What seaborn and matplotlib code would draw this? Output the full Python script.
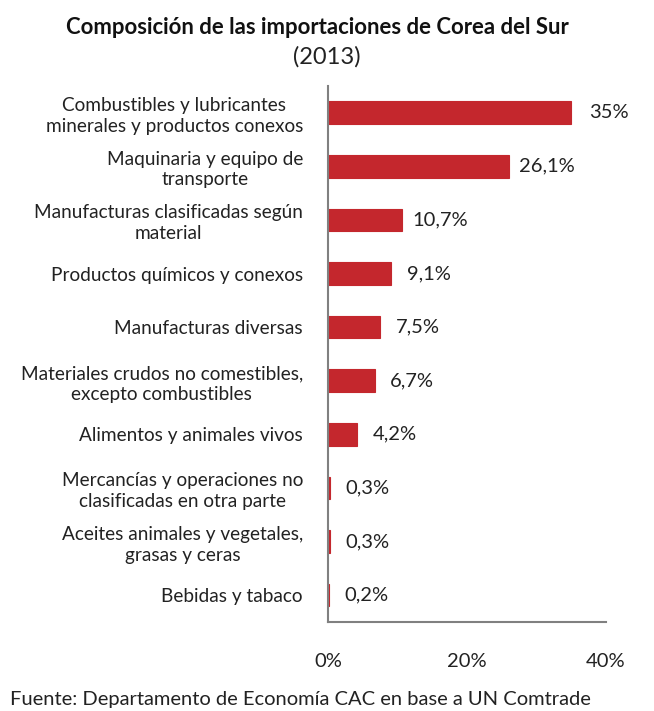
import matplotlib
matplotlib.use("Agg")
import matplotlib.pyplot as plt
import seaborn as sns
import pandas as pd

# Datos
categorias = [
    "Combustibles y lubricantes\nminerales y productos conexos",
    "Maquinaria y equipo de\ntransporte",
    "Manufacturas clasificadas según\nmaterial",
    "Productos químicos y conexos",
    "Manufacturas diversas",
    "Materiales crudos no comestibles,\nexcepto combustibles",
    "Alimentos y animales vivos",
    "Mercancías y operaciones no\nclasificadas en otra parte",
    "Aceites animales y vegetales,\ngrasas y ceras",
    "Bebidas y tabaco",
]
valores = [35, 26.1, 10.7, 9.1, 7.5, 6.7, 4.2, 0.3, 0.3, 0.2]
etiquetas = ["35%", "26,1%", "10,7%", "9,1%", "7,5%", "6,7%", "4,2%", "0,3%", "0,3%", "0,2%"]
ticks_x = [0, 20, 40]
ticks_x_labels = ["0%", "20%", "40%"]

df = pd.DataFrame({"categoria": categorias, "valor": valores})

sns.set_style("white")
plt.rcParams["font.family"] = ["Lato", "DejaVu Sans"]

fs = 14.5
fig = plt.figure(figsize=(6.54, 7.11), dpi=100)
ax = fig.add_axes([0.5015, 0.1252, 0.4251, 0.754])

sns.barplot(data=df, y="categoria", x="valor", orient="h", color="#c4272d",
            width=0.42, ax=ax, saturation=1, edgecolor="#c4272d", linewidth=0.8)

for i, (v, t) in enumerate(zip(valores, etiquetas)):
    ax.text(v + 5.4, i, t, va="center", ha="center", fontsize=fs, color="#222222")

ax.set_xlim(0, 40)
ax.set_xticks(ticks_x)
ax.set_xticklabels(ticks_x_labels, fontsize=fs, color="#222222")
ax.tick_params(axis="x", pad=22, length=5, direction="in", color="#808080")
ax.set_yticks([i + 0.5 for i in range(len(categorias))], minor=True)
ax.tick_params(axis="y", which="major", length=0, pad=18)
ax.tick_params(axis="y", which="minor", length=5, color="#808080", direction="out")
ax.set_yticklabels(categorias, fontsize=13.7, color="#222222", ha="right",
                   multialignment="center", linespacing=1.25)
ax.set_xlabel("")
ax.set_ylabel("")

sns.despine(ax=ax, top=True, right=True)
for s in ["left", "bottom"]:
    ax.spines[s].set_color("#808080")
    ax.spines[s].set_linewidth(1.5)

fig.text(0.485, 0.962, "Composición de las importaciones de Corea del Sur",
         ha="center", va="center", fontsize=15.9, fontweight="bold", color="#111111")
fig.text(0.5, 0.92, "(2013)", ha="center", va="center", fontsize=17, color="#222222")
fig.text(0.015, 0.016, "Fuente: Departamento de Economía CAC en base a UN Comtrade",
         ha="left", va="center", fontsize=14.5, color="#222222")

fig.savefig("out.png", dpi=100, facecolor="white")
